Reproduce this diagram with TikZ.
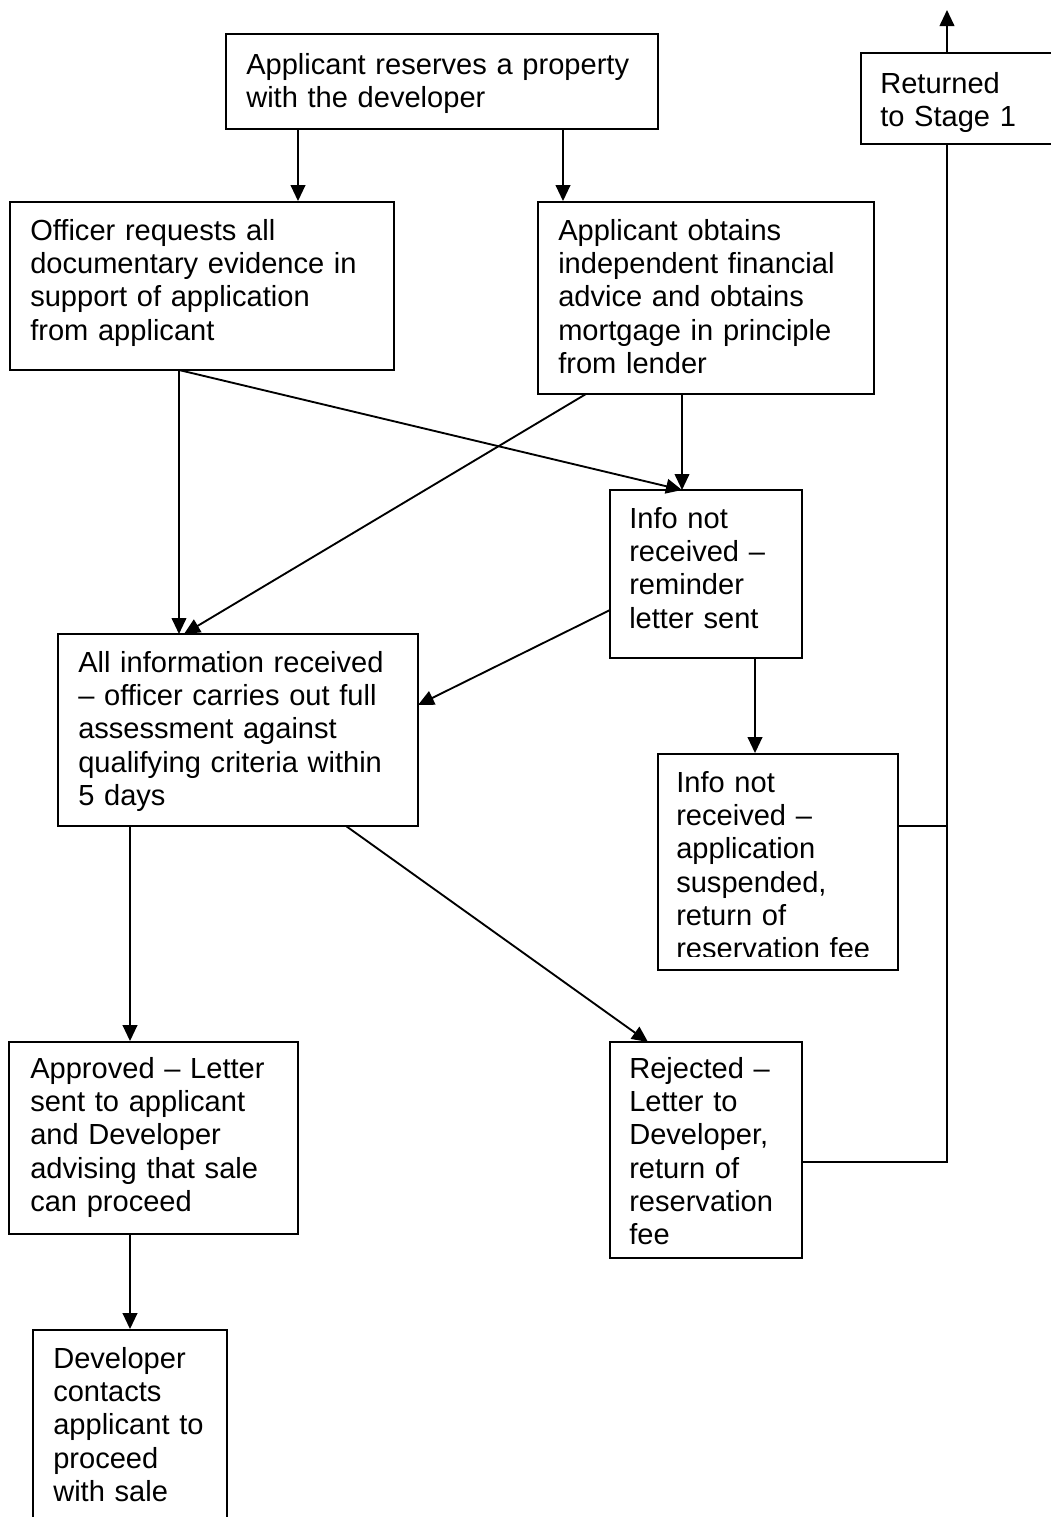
\documentclass[tikz,border=0pt]{standalone}
\usepackage{fontspec}
\setmainfont{Liberation Sans}
\usetikzlibrary{arrows.meta,fit}
\begin{document}
\begin{tikzpicture}[x=0.75pt,y=-0.75pt,
  box/.style={draw,line width=1.4pt,inner sep=0pt,rectangle},
  txt/.style={inner sep=0pt,anchor=base west,align=left,text width=600pt,
    font=\fontsize{21.8}{25}\selectfont},
  conn/.style={line width=1.4pt},
  arr/.style={conn,-{Triangle[length=12pt,width=11pt]}}]
\fill[white,use as bounding box] (0,0) rectangle (1050,1517);
% boxes
\node[box,fit={(226,34) (658,129)}] (b1) {};
\node[box,fit={(861,53) (1070,144)}] (b2) {};
\node[box,fit={(10,202) (394,370)}] (b3) {};
\node[box,fit={(538,202) (874,394)}] (b4) {};
\node[box,fit={(610,490) (802,658)}] (b5) {};
\node[box,fit={(58,634) (418,826)}] (b6) {};
\node[box,fit={(658,754) (898,970)}] (b7) {};
\node[box,fit={(9,1042) (298,1234)}] (b8) {};
\node[box,fit={(610,1042) (802,1258)}] (b9) {};
\node[box,fit={(33,1330) (227,1560)}] (b10) {};
% texts
\node[txt] (t1) at (246,74) {Applicant reserves a property\\with the developer};
\node[txt] (t2) at (880,93) {Returned\\to Stage 1};
\node[txt] (t3) at (30,240) {Officer requests all\\documentary evidence in\\support of application\\from applicant};
\node[txt] (t4) at (558,240) {Applicant obtains\\independent financial\\advice and obtains\\mortgage in principle\\from lender};
\node[txt] (t5) at (629,528) {Info not\\received –\\reminder\\letter sent};
\node[txt] (t6) at (78,672) {All information received\\– officer carries out full\\assessment against\\qualifying criteria within\\5 days};
\begin{scope}
\clip (658,754) rectangle (898,956);
\node[txt] (t7) at (676,792) {Info not\\received –\\application\\suspended,\\return of\\reservation fee};
\end{scope}
\node[txt] (t8) at (30,1078) {Approved – Letter\\sent to applicant\\and Developer\\advising that sale\\can proceed};
\node[txt] (t9) at (629,1078) {Rejected –\\Letter to\\Developer,\\return of\\reservation\\fee};
\node[txt] (t10) at (53,1368) {Developer\\contacts\\applicant to\\proceed\\with sale};
% connector end points
\coordinate (c1a) at (298,129);
\coordinate (c1b) at (563,129);
\coordinate (c3) at (179,370);
\coordinate (c4a) at (586,394);
\coordinate (c4b) at (682,394);
\coordinate (c5in) at (682,490);
\coordinate (c6in) at (179,634);
\coordinate (c6in2) at (184,634);
\coordinate (c5l) at (610,610);
\coordinate (c6r) at (418,705);
\coordinate (c5b) at (755,658);
\coordinate (c6a) at (130,826);
\coordinate (c6b) at (346,826);
\coordinate (c9in) at (648,1042);
\coordinate (c8b) at (130,1234);
\coordinate (j7) at (947,826);
\coordinate (j9) at (947,1162);
\coordinate (c2b) at (947,144);
\coordinate (c2t) at (947,53);
\coordinate (top) at (947,10);
% connectors
\draw[arr] (c1a) -- (c1a |- b3.north);
\draw[arr] (c1b) -- (c1b |- b4.north);
\draw[arr] (c3) -- (c6in);
\draw[arr] (c3) -- (c5in);
\draw[arr] (c4a) -- (c6in2);
\draw[arr] (c4b) -- (c5in);
\draw[arr] (c5l) -- (c6r);
\draw[arr] (c5b) -- (c5b |- b7.north);
\draw[arr] (c6a) -- (c6a |- b8.north);
\draw[arr] (c6b) -- (c9in);
\draw[arr] (c8b) -- (c8b |- b10.north);
\draw[conn] (b7.east |- j7) -- (j7);
\draw[conn] (b9.east |- j9) -- (j9) -- (c2b);
\draw[arr] (c2t) -- (top);
\end{tikzpicture}
\end{document}
